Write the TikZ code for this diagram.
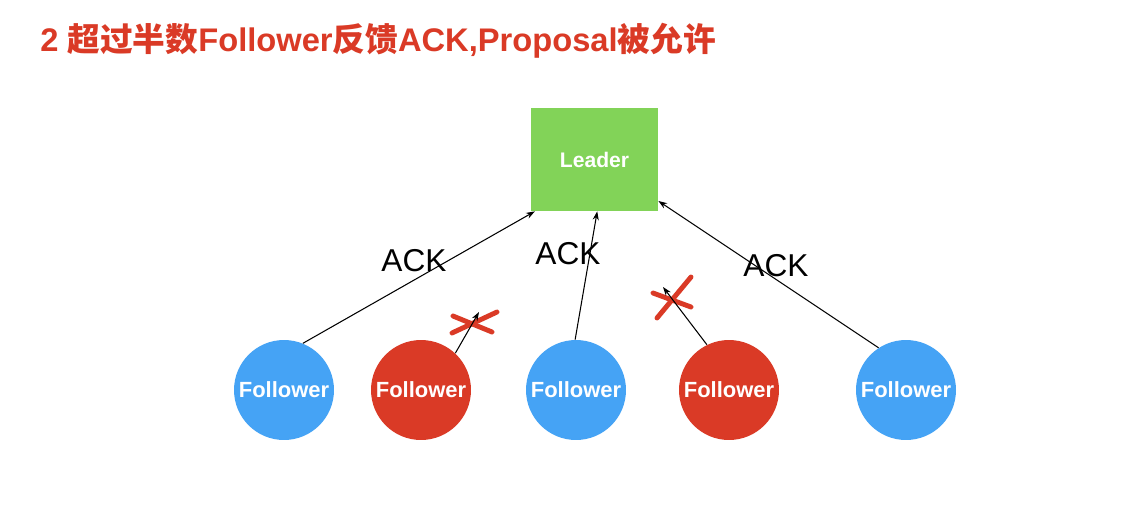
\documentclass[tikz,border=0pt]{standalone}
\usepackage{fontspec}
\setmainfont{Liberation Sans}
\newfontfamily\cjk{Noto Sans CJK SC}
\usetikzlibrary{arrows.meta}
\definecolor{leadgreen}{HTML}{82D358}
\definecolor{folblue}{HTML}{45A3F5}
\definecolor{folred}{HTML}{DA3A26}
\tikzset{
	leaderbox/.style={fill=leadgreen,minimum width=2.54cm,minimum height=2.06cm,inner sep=0pt,text=white,font=\bfseries\fontsize{12}{14}\selectfont},
	follower/.style={circle,minimum size=2cm,inner sep=0pt,text=white,font=\bfseries\fontsize{12.5}{14}\selectfont},
	alive/.style={follower,fill=folblue},
	dead/.style={follower,fill=folred},
	ack/.style={inner sep=0pt,font=\fontsize{18}{20}\selectfont},
	cross/.style={folred,line width=2.8pt,line cap=round},
	ackline/.style={line width=0.6pt,-{Stealth[length=5pt,width=3.5pt]}}
}
\begin{document}
\begin{tikzpicture}[x=0.02cm,y=-0.02cm]
	\useasboundingbox[fill=white] (0,0) rectangle (1136,518);
	\node[anchor=base west,inner sep=0pt,text=folred,font=\bfseries\fontsize{18.6}{21}\selectfont] (title) at (40,51)
		{2 {\cjk 超过半数}Follower{\cjk 反馈}ACK,Proposal{\cjk 被允许}};
	\node[leaderbox] (lead) at (594.5,159.5) {Leader};
	\node[alive] (f1) at (284,390) {Follower};
	\node[dead] (f2) at (421,390) {Follower};
	\node[alive] (f3) at (576,390) {Follower};
	\node[dead] (f4) at (729,390) {Follower};
	\node[alive] (f5) at (906,390) {Follower};
	\node[ack] (ack1) at (414,261) {ACK};
	\node[ack] (ack2) at (568,254) {ACK};
	\node[ack] (ack3) at (776,266) {ACK};
	\draw[cross] (453,316) -- (492,332);
	\draw[cross] (452,333) -- (497,312);
	\draw[cross] (653,293) -- (691,307);
	\draw[cross] (657,318) -- (691,277);
	\coordinate (lost2) at (479,312);
	\coordinate (lost4) at (663,287);
	\draw[ackline] (f1.68) -- (lead.221);
	\draw[ackline] (f3.91) -- (lead.273);
	\draw[ackline] (f5.123) -- (lead.-33);
	\draw[ackline] (f2.47) -- (lost2);
	\draw[ackline] (f4.116) -- (lost4);
\end{tikzpicture}
\end{document}
